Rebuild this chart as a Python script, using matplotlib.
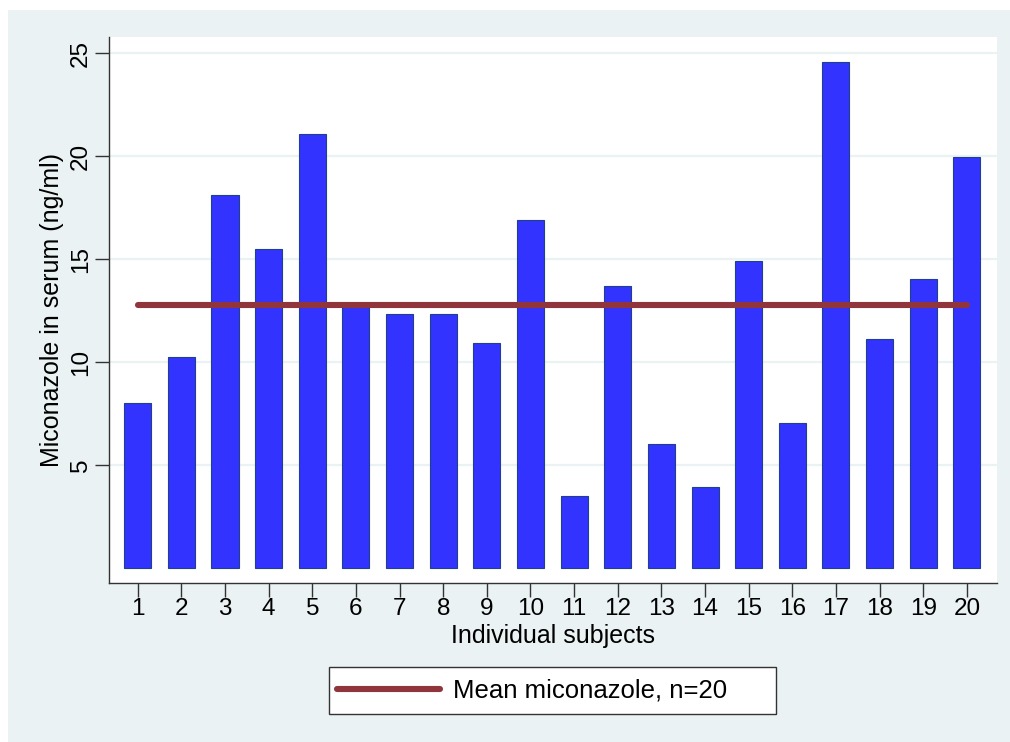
import matplotlib.pyplot as plt
from matplotlib.patches import Rectangle

plt.rcParams['font.family'] = ['Liberation Sans', 'DejaVu Sans']

# data
subjects = list(range(1, 21))
miconazole = [8.0, 10.24, 18.13, 15.47, 21.06, 12.7, 12.35, 12.35, 10.93, 16.88,
              3.47, 13.70, 6.02, 3.91, 14.92, 7.03, 24.56, 11.12, 14.04, 19.94]
mean_value = 12.78
y_ticks = [5, 10, 15, 20, 25]

bg = '#EAF2F3'
bar_color = '#3333FF'
line_color = '#90353B'

W, H = 1010, 742
fig = plt.figure(figsize=(W / 100, H / 100), dpi=100)
fig.patch.set_facecolor('white')
# outer graph region
fig.patches.append(Rectangle((8 / W, 0), 1 - 8 / W, 1 - 10 / H,
                             transform=fig.transFigure, facecolor=bg,
                             edgecolor='none', zorder=-5))

ax = fig.add_axes([108.5 / W, 1 - 583 / H, (997 - 108.5) / W, (583 - 37) / H])
ax.set_facecolor('white')

ax.bar(subjects, miconazole, width=0.62, color=bar_color,
       edgecolor='#1F3F8F', linewidth=0.8, zorder=2)
ax.plot([subjects[0], subjects[-1]], [mean_value, mean_value], color=line_color,
        linewidth=4.4, solid_capstyle='round', zorder=3,
        label='Mean miconazole, n=20')

ax.set_xlim(0.33, 20.69)
ax.set_ylim(-0.73, 25.78)
ax.set_yticks(y_ticks)
ax.set_xticks(subjects)
ax.yaxis.grid(True, color=bg, linewidth=1.6, zorder=0)
ax.set_axisbelow(True)

for s in ['top', 'right']:
    ax.spines[s].set_visible(False)
for s in ['left', 'bottom']:
    ax.spines[s].set_color('#333333')
    ax.spines[s].set_linewidth(1.0)

ax.tick_params(axis='both', labelsize=17.5, length=10, width=1.0, color='#333333')
ax.tick_params(axis='x', pad=1)
ax.tick_params(axis='y', pad=2)
for lab in ax.get_yticklabels():
    lab.set_rotation(90)
    lab.set_va('center')

ax.set_xlabel('Individual subjects', fontsize=18, labelpad=3)
ax.set_ylabel('Miconazole in serum (ng/ml)', fontsize=18, labelpad=4)

# legend box drawn separately (Stata style, wide right padding)
fig.patches.append(Rectangle((329 / W, 1 - 714 / H), (776 - 329) / W, (714 - 667) / H,
                             transform=fig.transFigure, facecolor='white',
                             edgecolor='#333333', linewidth=1.0, zorder=1))
leg = fig.legend(loc='center left', bbox_to_anchor=(337 / W, 1 - 690.5 / H),
                 fontsize=18.5, frameon=False, handlelength=4.0,
                 handletextpad=0.5, borderpad=0, borderaxespad=0)
leg.set_zorder(2)

fig.savefig('out.png', dpi=100, facecolor=fig.get_facecolor())
